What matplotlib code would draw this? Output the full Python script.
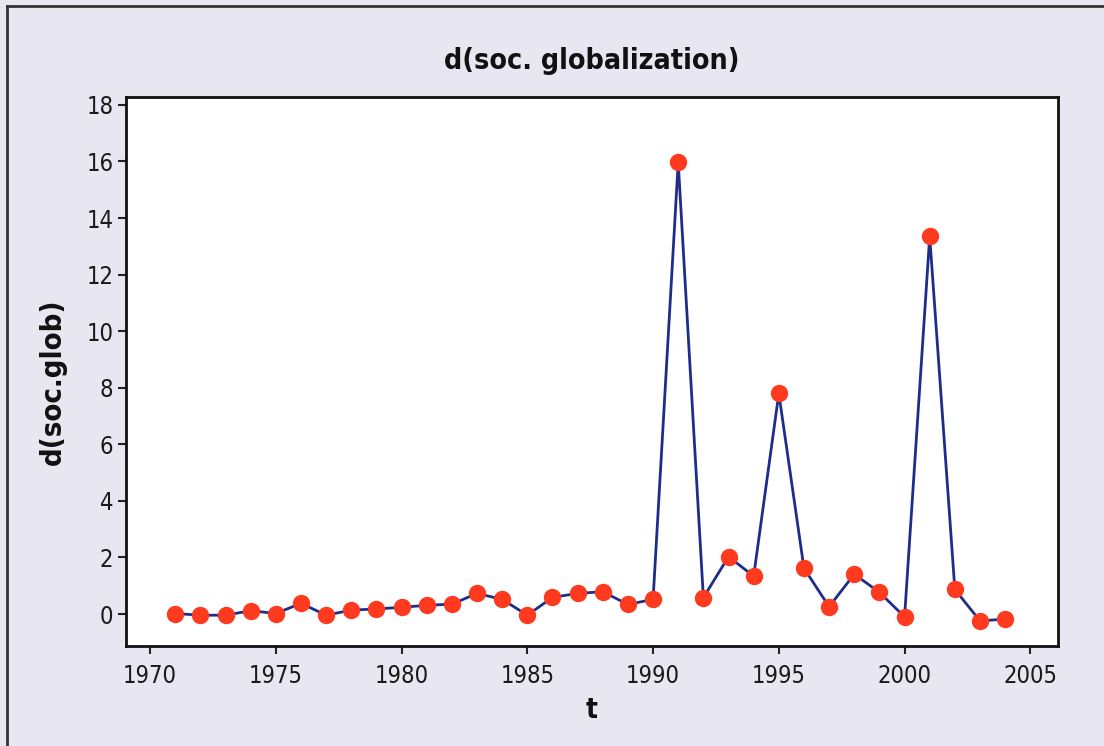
import matplotlib
matplotlib.use("Agg")
import matplotlib.pyplot as plt
from matplotlib.lines import Line2D

# Annual change in the social globalization index
years = list(range(1971, 2005))
d_soc_glob = [0.02, -0.04, -0.04, 0.12, 0.02, 0.38, -0.04, 0.14, 0.18, 0.24,
              0.31, 0.35, 0.73, 0.52, -0.04, 0.59, 0.73, 0.79, 0.34, 0.52,
              15.97, 0.58, 2.03, 1.34, 7.80, 1.62, 0.26, 1.41, 0.77, -0.10,
              13.35, 0.87, -0.24, -0.18]

x_ticks = [1970, 1975, 1980, 1985, 1990, 1995, 2000, 2005]
y_ticks = [0, 2, 4, 6, 8, 10, 12, 14, 16, 18]

bg = "#E8E6F0"
line_col = "#1F2D8A"
dot_col = "#FF3A1E"

plt.rcParams["font.family"] = ["DejaVu Sans"]
plt.rcParams["font.stretch"] = "condensed"

fig = plt.figure(figsize=(11.04, 7.46), dpi=100, facecolor=bg)
ax = fig.add_axes([0.1141, 0.134, 0.8442, 0.736])
ax.set_facecolor("white")

ax.plot(years, d_soc_glob, color=line_col, lw=2.0, zorder=2)
ax.plot(years, d_soc_glob, ls="none", marker="o", ms=11.5,
        mfc=dot_col, mec=dot_col, zorder=3)

ax.set_xlim(1969.04, 2006.1)
ax.set_ylim(-1.13, 18.28)
ax.set_xticks(x_ticks)
ax.set_yticks(y_ticks)
ax.tick_params(axis="both", direction="out", length=6, width=1.5,
               color="#222222", labelsize=17, labelcolor="#1a1a1a", pad=3)
ax.tick_params(axis="x", pad=7)

for sp in ax.spines.values():
    sp.set_linewidth(2.0)
    sp.set_color("#111111")

ax.set_title("d(soc. globalization)", fontsize=20.5, fontweight="bold",
             pad=20, color="#111111")
ax.set_xlabel("t", fontsize=20, fontweight="bold", labelpad=6, color="#111111")
ax.set_ylabel("d(soc.glob)", fontsize=21, fontweight="bold", color="#111111")
ax.yaxis.set_label_coords(-0.063, 0.481)

# Frame along the top and left edge of the figure
W, H = 1104, 746
fig.add_artist(Line2D([7 / W, 7 / W], [0, 1 - 6 / H], transform=fig.transFigure,
                      color="#333333", lw=2))
fig.add_artist(Line2D([7 / W, 1], [1 - 6 / H, 1 - 6 / H], transform=fig.transFigure,
                      color="#333333", lw=2))

fig.savefig("out.png", dpi=100, facecolor=bg)
